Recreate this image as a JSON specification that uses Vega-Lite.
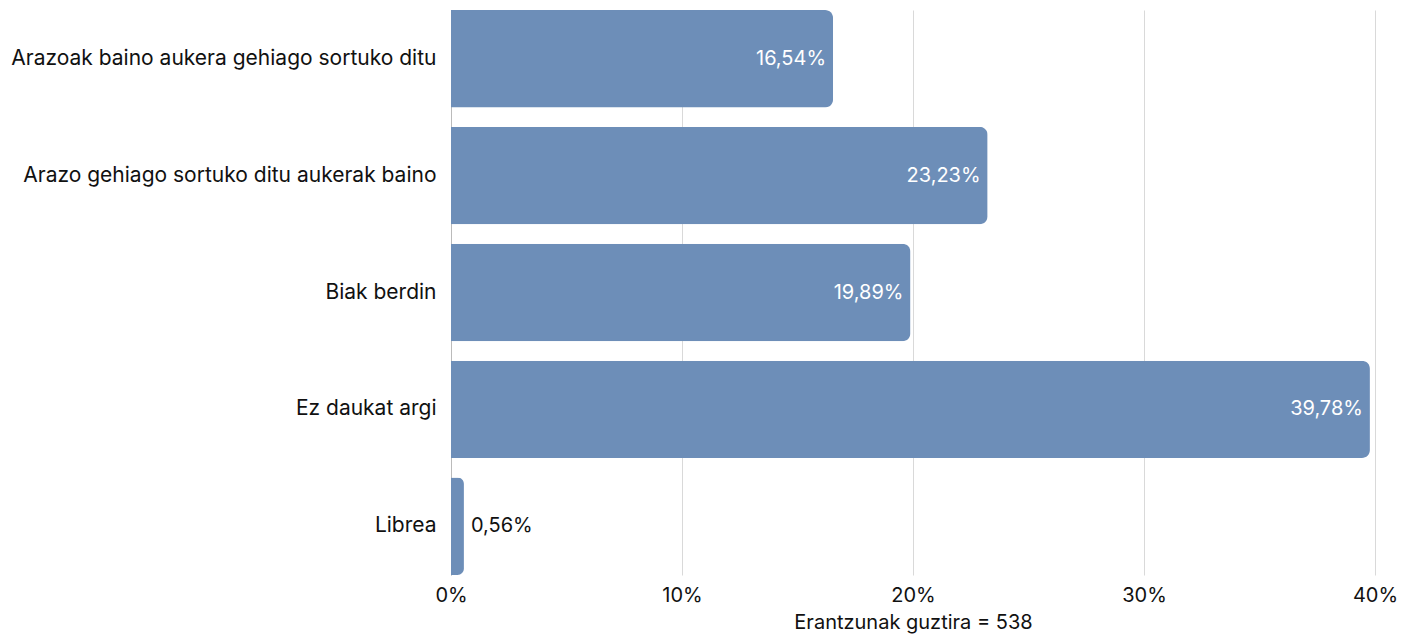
{
  "$schema": "https://vega.github.io/schema/vega-lite/v6.json",
  "autosize": "none",
  "width": 924,
  "height": 565,
  "padding": {"left": 451, "top": 10, "right": 27, "bottom": 66},
  "background": "white",
  "config": {
    "view": {"stroke": null},
    "font": "Inter",
    "locale": {"number": {"decimal": ",", "thousands": ".", "grouping": [3], "currency": ["", " €"]}}
  },
  "data": {"values": [
    {"category": "Arazoak baino aukera gehiago sortuko ditu", "value": 0.1654},
    {"category": "Arazo gehiago sortuko ditu aukerak baino", "value": 0.2323},
    {"category": "Biak berdin", "value": 0.1989},
    {"category": "Ez daukat argi", "value": 0.3978},
    {"category": "Librea", "value": 0.0056}
  ]},
  "encoding": {
    "y": {
      "field": "category", "type": "nominal", "sort": null,
      "scale": {"paddingInner": 0.166, "paddingOuter": 0},
      "axis": {"title": null, "ticks": false, "labelPadding": 15, "labelFontSize": 21, "labelColor": "#111", "domainColor": "#bbbbbb", "labelLimit": 500, "grid": false}
    },
    "x": {
      "field": "value", "type": "quantitative",
      "scale": {"domain": [0, 0.4], "nice": false},
      "axis": {"format": ".0%", "values": [0, 0.1, 0.2, 0.3, 0.4], "labelOverlap": false, "labelFlush": false, "labelBound": false, "domain": false, "ticks": false, "labelPadding": 10, "labelFontSize": 20, "labelColor": "#111", "gridColor": "#d9d9d9", "title": "Erantzunak guztira = 538", "titleFontSize": 20, "titleFontWeight": "normal", "titleColor": "#111", "titlePadding": 7}
    }
  },
  "layer": [
    {"mark": {"type": "bar", "color": "#6d8eb8", "cornerRadiusEnd": 8}},
    {
      "transform": [{"filter": "datum.value > 0.05"}],
      "mark": {"type": "text", "align": "right", "dx": -7, "color": "white", "fontSize": 20, "baseline": "middle"},
      "encoding": {"text": {"field": "value", "type": "quantitative", "format": ".2%"}}
    },
    {
      "transform": [{"filter": "datum.value <= 0.05"}],
      "mark": {"type": "text", "align": "left", "dx": 7, "color": "#111", "fontSize": 20, "baseline": "middle"},
      "encoding": {"text": {"field": "value", "type": "quantitative", "format": ".2%"}}
    }
  ]
}
